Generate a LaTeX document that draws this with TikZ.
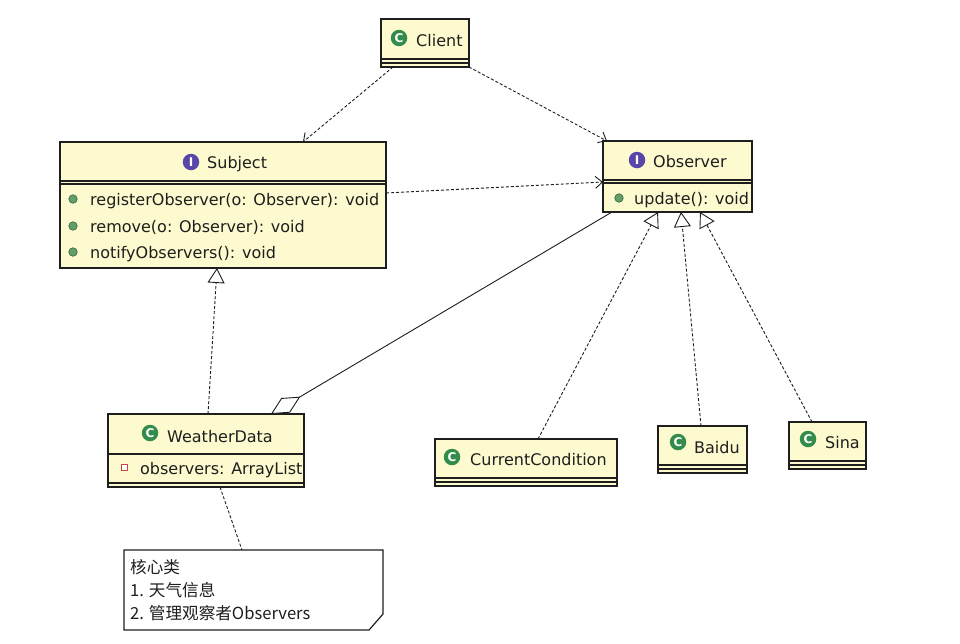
\documentclass[tikz,border=0pt]{standalone}
\usepackage{fontspec}
\setmainfont{DejaVu Sans}
\newfontfamily\cjk{Noto Sans CJK SC}
\usetikzlibrary{arrows.meta,calc}
\definecolor{clsfill}{RGB}{252,250,206}
\definecolor{icongreen}{RGB}{52,140,76}
\definecolor{iconpurple}{RGB}{88,70,168}
\definecolor{dotgreen}{RGB}{96,160,104}
\definecolor{attrred}{RGB}{200,70,70}
\definecolor{inkc}{RGB}{30,30,30}
\begin{document}
\begin{tikzpicture}[x=1pt,y=-1pt,font=\fontsize{16}{19}\selectfont,
  box/.style={draw=inkc,line width=1.3pt,fill=clsfill,inner sep=0pt,outer sep=0pt,rectangle},
  notebox/.style={inner sep=0pt,outer sep=0pt,rectangle},
  txt/.style={anchor=base west,inner sep=0pt,text=inkc},
  cicon/.style={circle,fill=icongreen,inner sep=0pt,minimum size=16.5pt,text=white,font=\fontsize{12}{12}\selectfont\bfseries},
  iicon/.style={circle,fill=iconpurple,inner sep=0pt,minimum size=16.5pt,text=white,font=\fontsize{12}{12}\selectfont\bfseries},
  mdot/.style={circle,fill=dotgreen,draw=dotgreen!60!black,line width=0.6pt,minimum size=8.5pt,inner sep=0pt},
  attr/.style={rectangle,draw=attrred,line width=1pt,fill=white,minimum size=6pt,inner sep=0pt},
  sepline/.style={draw=inkc,line width=1.1pt},
  dashline/.style={draw=inkc,line width=0.9pt,dash pattern=on 3pt off 2pt},
  depend/.style={dashline,-{Straight Barb[length=7pt,width=12pt]}},
  realize/.style={dashline,-{Triangle[open,length=15pt,width=17pt,fill=white]}},
  aggr/.style={draw=inkc,line width=0.9pt,{Diamond[open,length=34pt,width=17pt,fill=white]}-},
]
\fill[white] (0,0) rectangle (960,643);
\useasboundingbox (0,0) rectangle (960,643);

% ---- Client ----
\node[box,minimum width=88pt,minimum height=48pt] (client) at (425,43) {};
\draw[sepline] (381,59) -- (469,59);
\draw[sepline] (381,63) -- (469,63);
\node[cicon] (clientI) at (399,38) {C};
\node[txt] (clientT) at (416,46) {Client};

% ---- Subject ----
\node[box,minimum width=326pt,minimum height=126pt] (subject) at (223,205) {};
\draw[sepline] (60,181) -- (386,181);
\draw[sepline] (60,184) -- (386,184);
\node[iicon] (subjectI) at (191,162) {I};
\node[txt] (subjectT) at (207,168) {Subject};
\node[mdot] (sd1) at (73,199) {};
\node[mdot] (sd2) at (73,226) {};
\node[mdot] (sd3) at (73,252) {};
\node[txt] (sm1) at (90,205) {registerObserver(o: Observer): void};
\node[txt] (sm2) at (90,232) {remove(o: Observer): void};
\node[txt] (sm3) at (90,258) {notifyObservers(): void};

% ---- Observer ----
\node[box,minimum width=149pt,minimum height=71pt] (observer) at (677.5,176.5) {};
\draw[sepline] (603,180) -- (752,180);
\draw[sepline] (603,183) -- (752,183);
\node[iicon] (observerI) at (637,160) {I};
\node[txt] (observerT) at (653,167) {Observer};
\node[mdot] (od1) at (619,198) {};
\node[txt] (om1) at (634,204) {update(): void};

% ---- WeatherData ----
\node[box,minimum width=196pt,minimum height=73pt] (weather) at (206,450.5) {};
\draw[sepline] (108,454) -- (304,454);
\draw[sepline] (108,483) -- (304,483);
\node[cicon] (weatherI) at (150,433) {C};
\node[txt] (weatherT) at (167,442) {WeatherData};
\node[attr] (wa1) at (124,467) {};
\node[txt] (wat1) at (140,474) {observers: ArrayList};

% ---- CurrentCondition ----
\node[box,minimum width=182pt,minimum height=47pt] (cc) at (526,462.5) {};
\draw[sepline] (435,478) -- (617,478);
\draw[sepline] (435,482) -- (617,482);
\node[cicon] (ccI) at (452,457) {C};
\node[txt] (ccT) at (470,465) {CurrentCondition};

% ---- Baidu ----
\node[box,minimum width=89pt,minimum height=47pt] (baidu) at (702.5,449.5) {};
\draw[sepline] (658,465) -- (747,465);
\draw[sepline] (658,469) -- (747,469);
\node[cicon] (baiduI) at (678,442) {C};
\node[txt] (baiduT) at (694,453) {Baidu};

% ---- Sina ----
\node[box,minimum width=77pt,minimum height=47pt] (sina) at (827.5,445.5) {};
\draw[sepline] (789,461) -- (866,461);
\draw[sepline] (789,465) -- (866,465);
\node[cicon] (sinaI) at (808,439) {C};
\node[txt] (sinaT) at (825,448) {Sina};

% ---- Note ----
\node[notebox,minimum width=259pt,minimum height=80pt] (note) at (253.5,590) {};
\draw[draw=inkc,line width=1.2pt,fill=white]
  (note.north west) -- (note.north east) -- ([yshift=16pt]note.south east)
  -- ([xshift=-14pt]note.south east) -- (note.south west) -- cycle;
\node[txt,font=\cjk\fontsize{16.6}{19}\selectfont] (n1) at (130,573) {核心类};
\node[txt,font=\cjk\fontsize{16.6}{19}\selectfont] (n2) at (130,596) {1. 天气信息};
\node[txt,font=\cjk\fontsize{16.6}{19}\selectfont] (n3) at (130,619) {2. 管理观察者Observers};

% ---- Connectors ----
\draw[depend] ([xshift=12pt]client.south west) -- ([xshift=243pt]subject.north west);
\draw[depend] (client.south east) -- ([xshift=4pt]observer.north west);
\draw[depend] ([yshift=-51pt]subject.north east) -- ([yshift=-41pt]observer.north west);
\draw[realize] ([xshift=100pt]weather.north west) -- ([xshift=157pt]subject.south west);
\draw[aggr] ([xshift=163pt]weather.north west) -- ([xshift=9pt]observer.south west);
\draw[realize] ([xshift=103pt]cc.north west) -- ([xshift=55pt]observer.south west);
\draw[realize] ([xshift=43pt]baidu.north west) -- ([xshift=78pt]observer.south west);
\draw[realize] ([xshift=23pt]sina.north west) -- ([xshift=97pt]observer.south west);
\draw[dashline] ([xshift=112pt]weather.south west) -- ([xshift=118pt]note.north west);
\end{tikzpicture}
\end{document}
